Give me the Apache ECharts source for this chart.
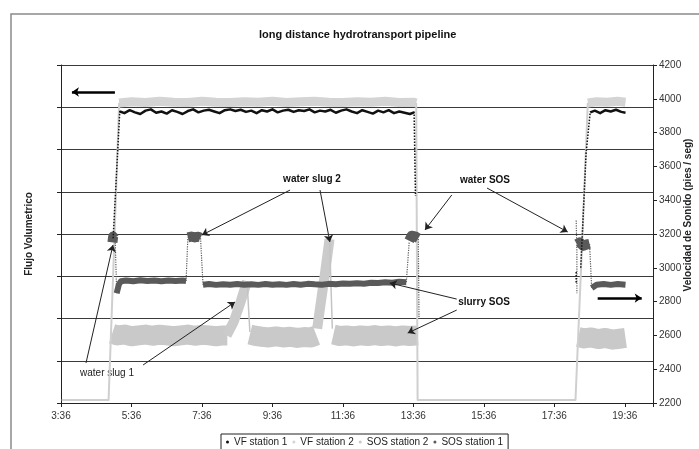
<!DOCTYPE html>
<html>
<head>
<meta charset="utf-8">
<script src="https://cdn.jsdelivr.net/npm/echarts@6/dist/echarts.min.js"></script>
<style>
html,body{margin:0;padding:0;background:#fff;}
#chart{width:699px;height:449px;}
</style>
</head>
<body>
<div id="chart"></div>
<script>
// time axis starts at 3:36 (3.6 h), ticks every 2 h
var T0 = 3.6
var xTickLabels = ['3:36','5:36','7:36','9:36','11:36','13:36','15:36','17:36','19:36']
var seriesNames = ['VF station 1','VF station 2','SOS station 2','SOS station 1']

// [clock hour, flow] on left axis (0..8), null = gap
var vf1Band = [[5.27,6.90],[5.4,6.86],[5.55,6.93],[5.7,6.88],[5.85,6.84],[6.0,6.92],[6.15,6.95],[6.3,6.87],[6.45,6.90],[6.6,6.85],[6.75,6.93],[6.9,6.89],[7.05,6.84],[7.2,6.91],[7.35,6.95],[7.5,6.88],[7.65,6.92],[7.8,6.94],[7.95,6.90],[8.1,6.86],[8.25,6.93],[8.4,6.95],[8.55,6.91],[8.7,6.94],[8.85,6.89],[9.0,6.92],[9.15,6.86],[9.3,6.93],[9.45,6.90],[9.6,6.95],[9.75,6.88],[9.9,6.92],[10.05,6.94],[10.2,6.89],[10.35,6.93],[10.5,6.91],[10.65,6.95],[10.8,6.88],[10.95,6.92],[11.1,6.90],[11.25,6.94],[11.4,6.87],[11.55,6.92],[11.7,6.95],[11.85,6.90],[12.0,6.86],[12.15,6.93],[12.3,6.89],[12.45,6.85],[12.6,6.92],[12.75,6.88],[12.9,6.93],[13.05,6.86],[13.2,6.90],[13.35,6.87],[13.5,6.84],[13.62,6.88],[15.0,null],[18.62,6.88],[18.75,6.92],[18.9,6.86],[19.05,6.93],[19.2,6.90],[19.35,6.94],[19.5,6.89],[19.62,6.87]]
var vf1Edges = [[5.08,3.9],[5.27,6.95],[9,null],[13.62,6.9],[13.66,4.9],[15,null],[18.22,2.85],[18.22,3.1],[18.3,null],[18.35,3.2],[18.5,5.9],[18.62,6.9]]

var vf2Band = [[5.25,7.1],[5.6,7.13],[6.0,7.11],[6.4,7.14],[6.8,7.12],[7.2,7.11],[7.6,7.14],[8.0,7.12],[8.4,7.11],[8.8,7.13],[9.2,7.12],[9.6,7.14],[10.0,7.11],[10.4,7.13],[10.8,7.14],[11.2,7.12],[11.6,7.11],[12.0,7.13],[12.4,7.12],[12.8,7.14],[13.2,7.11],[13.6,7.12],[13.68,7.1],[15,null],[18.55,7.1],[18.8,7.13],[19.1,7.12],[19.4,7.14],[19.62,7.12]]
var vf2Edges = [[3.62,0.07],[4.95,0.07],[5.1,3.5],[5.25,7.1],[9,null],[13.68,7.1],[13.72,0.07],[18.2,0.07],[18.4,4.0],[18.55,7.1]]

// [clock hour, speed of sound] on right axis (pies/seg)
var sos2Band = [[5.05,2610],[5.2,2600],[5.4,2605],[5.6,2595],[5.8,2600],[6.0,2605],[6.2,2598],[6.4,2604],[6.6,2600],[6.8,2595],[7.0,2600],[7.2,2605],[7.4,2598],[7.6,2603],[7.8,2600],[8.0,2595],[8.2,2600],[8.32,2600],[8.6,null],[8.96,2605],[9.1,2598],[9.3,2592],[9.5,2588],[9.7,2594],[9.9,2588],[10.1,2592],[10.3,2585],[10.5,2590],[10.7,2588],[10.85,2600],[11.1,null],[11.33,2605],[11.5,2597],[11.7,2600],[11.9,2594],[12.1,2600],[12.3,2596],[12.5,2602],[12.7,2596],[12.9,2600],[13.1,2594],[13.3,2600],[13.5,2596],[13.72,2600],[15,null],[18.28,2590],[18.45,2582],[18.65,2588],[18.85,2578],[19.05,2585],[19.25,2575],[19.45,2580],[19.62,2585]]
var sos2Ramps = [[8.3,2600],[8.5,2680],[8.7,2800],[8.88,2920],[9.0,null],[10.87,2640],[10.95,2760],[11.1,2980],[11.22,3170]]
var sos2Edges = [[8.88,2920],[8.96,2620],[9.5,null],[11.22,3170],[11.3,2640]]

var sos1Band = [[5.18,2850],[5.24,2900],[5.3,2920],[5.45,2925],[5.65,2920],[5.85,2926],[6.05,2922],[6.25,2925],[6.45,2920],[6.65,2925],[6.85,2922],[7.05,2925],[7.15,2922],[7.3,null],[7.63,2900],[7.8,2904],[8.0,2899],[8.2,2903],[8.4,2900],[8.6,2904],[8.8,2900],[9.0,2902],[9.2,2899],[9.4,2904],[9.6,2900],[9.8,2903],[10.0,2899],[10.2,2904],[10.4,2900],[10.6,2905],[10.8,2902],[11.0,2900],[11.2,2905],[11.4,2903],[11.6,2907],[11.8,2905],[12.0,2909],[12.2,2906],[12.4,2911],[12.6,2910],[12.8,2914],[13.0,2912],[13.2,2917],[13.4,2915],[15,null],[18.66,2880],[18.8,2900],[19.0,2904],[19.2,2899],[19.4,2904],[19.62,2900]]
var sos1Blobs = [[5.06,3150],[5.08,3185],[5.11,3175],[6,null],[7.2,3180],[7.3,3185],[7.4,3180],[7.5,3184],[7.56,3178],[10,null],[13.48,3160],[13.55,3190],[13.65,3186],[13.74,3175],[15,null],[18.24,3140],[18.32,3150],[18.42,3130],[18.52,3138],[18.6,3142]]
var sos1Edges = [[5.14,3150],[5.18,2850],[6,null],[7.15,2922],[7.2,3180],[7.4,null],[7.56,3175],[7.63,2900],[10,null],[13.4,2915],[13.48,3150],[13.6,null],[13.74,3170],[13.76,2700],[15,null],[18.22,3280],[18.24,3100],[18.24,2850],[18.4,null],[18.6,3140],[18.66,2880]]

// annotation arrows: [from hour, from sos, to hour, to sos]
var arrows = [
  [4.31,2437,5.075,3135],[5.93,2425,8.54,2798],
  [10.1,3460,7.6,3194],[10.95,3460,11.23,3153],
  [14.69,3431,13.93,3224],[15.69,3472,17.98,3212],
  [14.83,2815,12.93,2910],[14.83,2750,13.44,2614]
]
var bigArrows = [[5.13,4040,3.91,4040],[18.83,2821,20.08,2821]]

function pts(list) {
  return list.map(function (p) { return [p[0] - T0, p[1] === null ? '-' : p[1]] })
}

function lineSeries(name, data, axis, color, width, type) {
  return {
    name: name, type: 'line', yAxisIndex: axis, data: pts(data),
    symbol: 'none', showSymbol: false, silent: true,
    itemStyle: { color: color },
    lineStyle: { color: color, width: width, type: type || 'solid', join: 'round' }
  }
}

var font = 'Liberation Sans, Arial, sans-serif'
var chart = echarts.init(document.getElementById('chart'))

var markData = arrows.map(function (a) {
  return [{ coord: [a[0] - T0, a[1]] }, { coord: [a[2] - T0, a[3]] }]
}).concat(bigArrows.map(function (a) {
  return [{ coord: [a[0] - T0, a[1]], lineStyle: { width: 2.5, color: '#000' }, symbolSize: 11 },
          { coord: [a[2] - T0, a[3]] }]
}))

var series = [
  lineSeries('SOS station 2', sos2Band, 1, '#c9c9c9', 20),
  lineSeries('SOS station 2', sos2Ramps, 1, '#cbcbcb', 10),
  lineSeries('SOS station 2', sos2Edges, 1, '#c4c4c4', 1.5),
  lineSeries('VF station 2', vf2Band, 0, '#d4d4d4', 9),
  lineSeries('VF station 2', vf2Edges, 0, '#cfcfcf', 2),
  lineSeries('SOS station 1', sos1Band, 1, '#5a5a5a', 6),
  lineSeries('SOS station 1', sos1Blobs, 1, '#5a5a5a', 10),
  lineSeries('SOS station 1', sos1Edges, 1, '#5a5a5a', 1.2, 'dotted'),
  lineSeries('VF station 1', vf1Band, 0, '#111', 2.5),
  lineSeries('VF station 1', vf1Edges, 0, '#111', 1.5, 'dotted')
]
// arrows live on a right-axis series so their coords use pies/seg
series[7].markLine = {
  silent: true, animation: false,
  symbol: ['none', 'arrow'], symbolSize: 7,
  label: { show: false },
  lineStyle: { color: '#222', width: 1, type: 'solid' },
  data: markData
}

var option = {
  animation: false,
  backgroundColor: '#fff',
  title: {
    text: 'long distance hydrotransport pipeline',
    left: 254, top: 24,
    textStyle: { fontFamily: font, fontSize: 11, fontWeight: 'bold', color: '#111' }
  },
  legend: {
    data: seriesNames,
    left: 221, top: 434,
    icon: 'circle', itemWidth: 3, itemHeight: 3, itemGap: 5,
    padding: [3, 5, 3, 5],
    borderColor: '#222', borderWidth: 1,
    textStyle: { fontFamily: font, fontSize: 10, color: '#222' }
  },
  grid: { left: 61, right: 46, top: 65, bottom: 46 },
  xAxis: {
    type: 'value', min: 0, max: 16.8, interval: 2,
    axisLine: { lineStyle: { color: '#222' } },
    axisTick: { length: 4, lineStyle: { color: '#222' } },
    splitLine: { show: false },
    axisLabel: {
      fontFamily: font, fontSize: 10, color: '#333', margin: 8,
      formatter: function (v) {
        var i = Math.round(v / 2)
        return Math.abs(v - i * 2) < 1e-6 && i < xTickLabels.length ? xTickLabels[i] : ''
      }
    }
  },
  yAxis: [{
    type: 'value', min: 0, max: 8, interval: 1,
    name: 'Flujo Volumetrico', nameLocation: 'middle', nameGap: 27,
    nameTextStyle: { fontFamily: font, fontSize: 10, fontWeight: 'bold', color: '#222' },
    axisLine: { show: true, lineStyle: { color: '#222' } },
    axisTick: { show: true, length: 4, lineStyle: { color: '#222' } },
    axisLabel: { show: false },
    splitLine: { show: true, lineStyle: { color: '#3a3a3a', width: 1 } }
  }, {
    type: 'value', min: 2200, max: 4200, interval: 200, position: 'right',
    axisLine: { show: true, lineStyle: { color: '#222' } },
    axisTick: { show: true, length: 4, lineStyle: { color: '#222' } },
    axisLabel: { fontFamily: font, fontSize: 10, color: '#333', margin: 6, formatter: function (v) { return String(v) } },
    splitLine: { show: false }
  }],
  graphic: [
    { type: 'rect', shape: { x: 11, y: 14, width: 720, height: 470 }, style: { fill: null, stroke: '#8a8a8a', lineWidth: 1.5 }, silent: true },
    { type: 'text', x: 688, y: 215, rotation: Math.PI / 2, style: { text: 'Velocidad de Sonido (pies / seg)', font: 'bold 10px ' + font, fill: '#222', align: 'center', verticalAlign: 'middle' } },
    { type: 'text', x: 107, y: 373, style: { text: 'water slug 1', font: '10px ' + font, fill: '#222', align: 'center', verticalAlign: 'middle' } },
    { type: 'text', x: 312, y: 179, style: { text: 'water slug 2', font: 'bold 10px Liberation Sans Narrow, ' + font, fill: '#111', align: 'center', verticalAlign: 'middle' } },
    { type: 'text', x: 485, y: 180, style: { text: 'water SOS', font: 'bold 10px Liberation Sans Narrow, ' + font, fill: '#111', align: 'center', verticalAlign: 'middle' } },
    { type: 'text', x: 484, y: 302, style: { text: 'slurry SOS', font: 'bold 10px Liberation Sans Narrow, ' + font, fill: '#111', align: 'center', verticalAlign: 'middle' } }
  ],
  series: series
}

chart.setOption(option)
</script>
</body>
</html>
